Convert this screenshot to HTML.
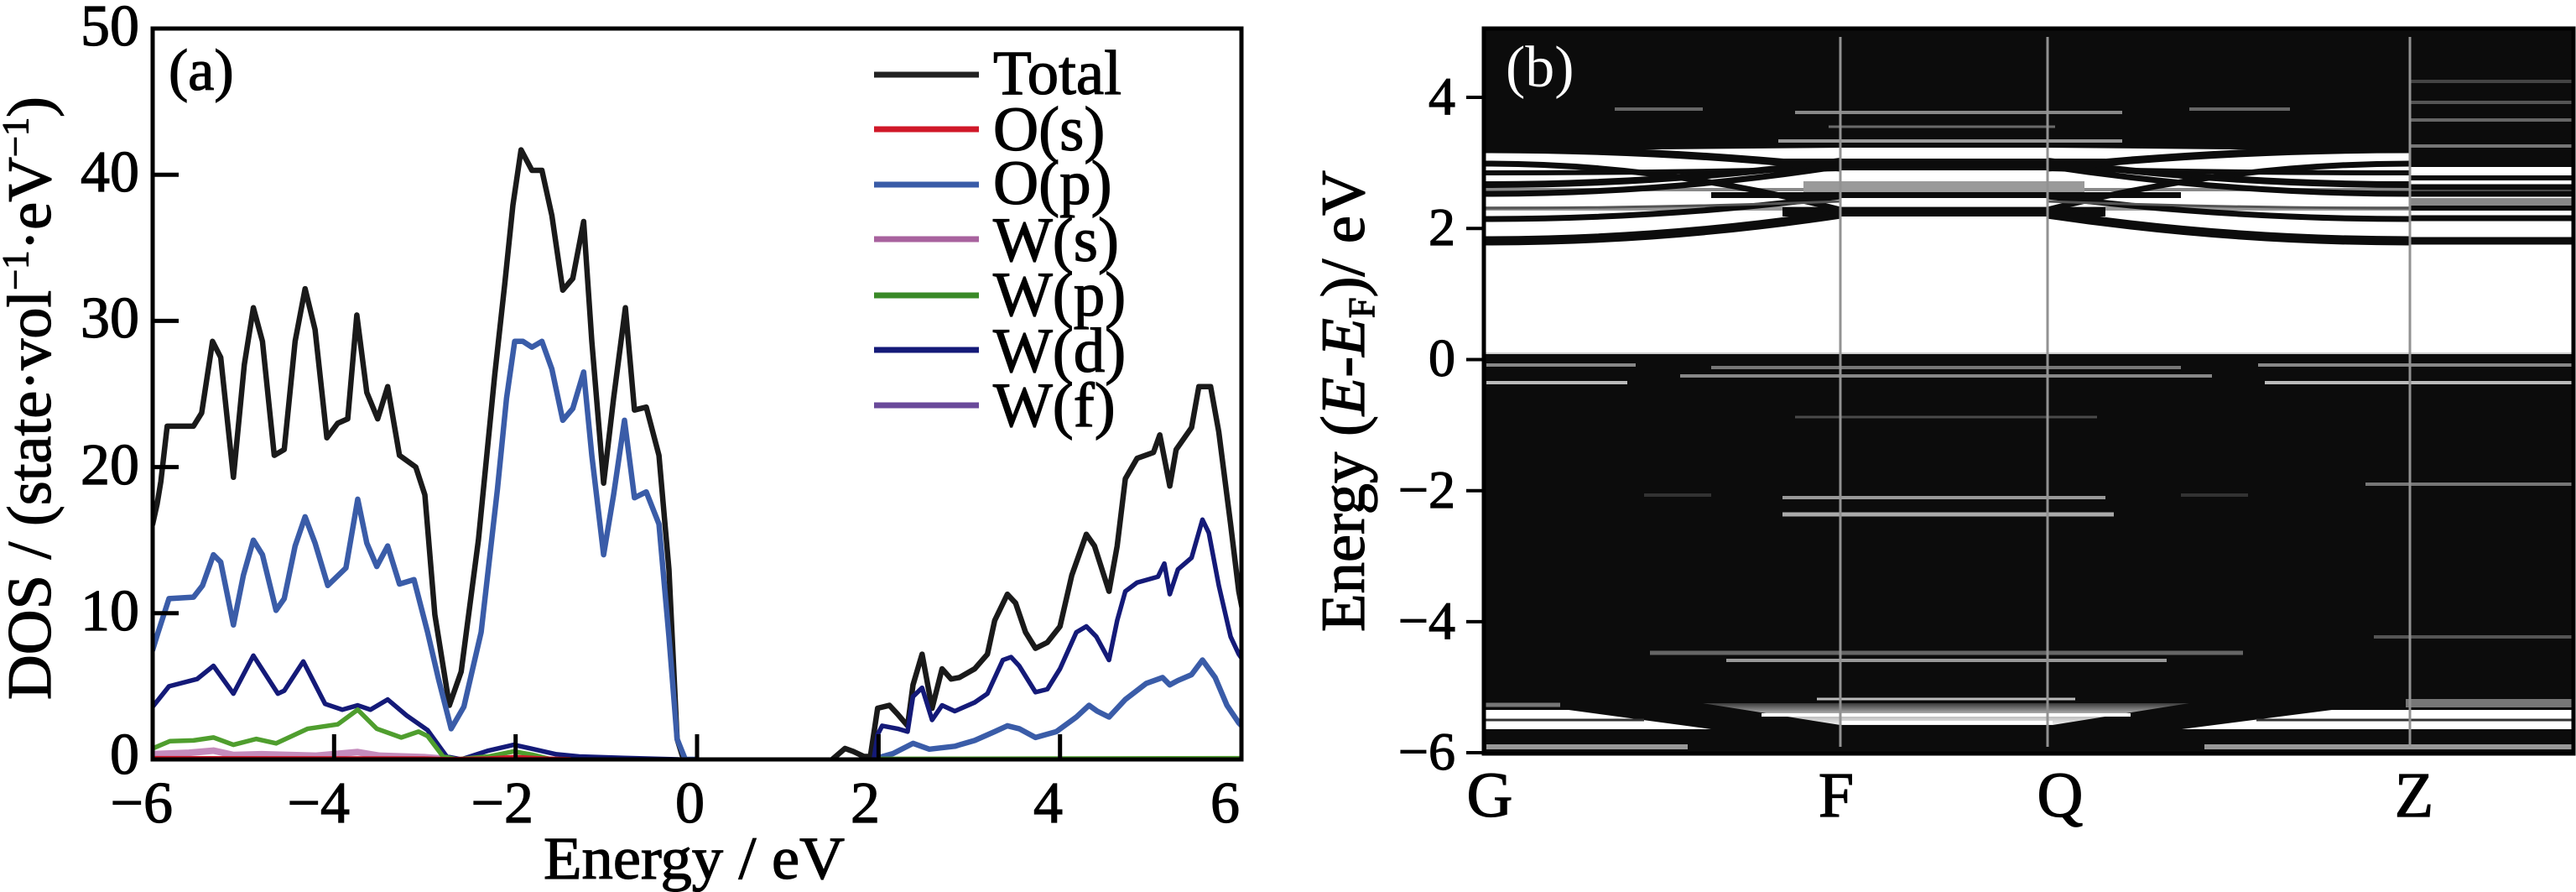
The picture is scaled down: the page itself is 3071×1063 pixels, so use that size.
<!DOCTYPE html>
<html><head><meta charset="utf-8"><style>
html,body{margin:0;padding:0;background:#fff;}
svg{display:block;font-family:"Liberation Serif","Times New Roman",serif;}
svg text{font-family:"Liberation Serif","Times New Roman",serif;}
</style></head><body>
<svg width="3071" height="1063" viewBox="0 0 3071 1063" xmlns="http://www.w3.org/2000/svg" font-family="'Liberation Serif', 'Times New Roman', serif" style="font-family:'Liberation Serif','Times New Roman',serif">
<defs>
<clipPath id="ca"><rect x="182" y="34" width="1298" height="871"/></clipPath>
<clipPath id="cb"><rect x="1769" y="34" width="1299" height="864"/></clipPath>
<linearGradient id="gq" x1="0" y1="0" x2="0" y2="1">
<stop offset="0" stop-color="#3a3a3a"/><stop offset="0.45" stop-color="#a8a8a8"/><stop offset="1" stop-color="#f0f0f0"/>
</linearGradient>
</defs>

<!-- ================= PANEL (a) ================= -->
<g clip-path="url(#ca)">
<g transform="matrix(108.17,0,0,-17.42,831.02,905)" fill="none" stroke-linejoin="round" stroke-linecap="round">
<polyline vector-effect="non-scaling-stroke" stroke="#1a1a1a" stroke-width="6.5" points="-6.05,15.5 -6,16.1 -5.95,17.5 -5.91,19 -5.84,22.8 -5.55,22.8 -5.46,23.7 -5.34,28.6 -5.25,27.5 -5.11,19.3 -4.99,27 -4.89,30.9 -4.79,28.6 -4.66,20.8 -4.55,21.2 -4.43,28.6 -4.32,32.2 -4.21,29.4 -4.08,22 -3.96,23 -3.85,23.3 -3.75,30.4 -3.64,25.1 -3.52,23.3 -3.41,25.5 -3.28,20.8 -3.1,20 -3,18.1 -2.89,9.9 -2.73,3.7 -2.6,6 -2.41,15 -2.23,26.3 -2.12,32.5 -2.03,37.9 -1.94,41.7 -1.82,40.3 -1.71,40.3 -1.6,37.2 -1.48,32.1 -1.37,32.9 -1.25,36.8 -1.16,28.6 -1.03,18.9 -0.92,24.7 -0.79,30.9 -0.69,23.9 -0.56,24.1 -0.42,20.8 -0.31,13 -0.22,1.4 -0.15,0"/>
<polyline vector-effect="non-scaling-stroke" stroke="#1a1a1a" stroke-width="6.5" points="1.49,0 1.63,0.75 1.72,0.55 1.84,0.2 1.91,0.2 1.99,3.5 2.12,3.7 2.21,3.1 2.32,2.3 2.38,5.1 2.48,7.2 2.59,3.5 2.7,6.2 2.8,5.5 2.89,5.6 3.06,6.2 3.2,7.2 3.28,9.5 3.42,11.3 3.51,10.7 3.62,8.7 3.73,7.6 3.86,8 4,9.1 4.13,12.6 4.29,15.4 4.38,14.6 4.54,11.5 4.63,14.6 4.72,19.2 4.85,20.6 5.03,21 5.1,22.2 5.21,18.7 5.28,21.2 5.45,22.7 5.53,25.5 5.66,25.5 5.75,22.4 5.88,16.1 5.97,11.5 6.05,9"/>
<polyline vector-effect="non-scaling-stroke" stroke="#3a5ca8" stroke-width="6.5" points="-6.05,7 -6,7.5 -5.95,8.5 -5.82,11 -5.55,11.1 -5.45,11.9 -5.33,14 -5.25,13.5 -5.11,9.2 -5,12.6 -4.89,15 -4.79,14 -4.64,10.2 -4.55,11 -4.43,14.6 -4.32,16.6 -4.21,14.8 -4.07,11.9 -3.87,13.1 -3.74,17.8 -3.64,14.8 -3.53,13.2 -3.41,14.6 -3.28,12 -3.12,12.3 -2.97,8.7 -2.85,5.5 -2.71,2.1 -2.57,3.6 -2.38,8.7 -2.2,18.5 -2.1,24.7 -2.01,28.6 -1.92,28.6 -1.82,28.2 -1.71,28.6 -1.6,26.7 -1.48,23.2 -1.37,24 -1.25,26.5 -1.16,20.8 -1.03,14 -0.92,18.1 -0.8,23.2 -0.69,17.9 -0.56,18.3 -0.42,16.1 -0.31,8.4 -0.22,1.4 -0.13,0 0,0"/>
<polyline vector-effect="non-scaling-stroke" stroke="#3a5ca8" stroke-width="6.5" points="1.99,0.1 2.16,0.4 2.38,1.1 2.56,0.7 2.84,0.9 3.06,1.3 3.28,1.9 3.42,2.3 3.55,2.1 3.73,1.5 3.96,1.9 4.18,2.9 4.32,3.7 4.41,3.3 4.54,2.9 4.72,4.1 4.95,5.2 5.13,5.6 5.21,5.1 5.3,5.4 5.45,5.8 5.57,6.8 5.71,5.6 5.84,3.7 5.97,2.5 6.05,2"/>
<polyline vector-effect="non-scaling-stroke" stroke="#141a78" stroke-width="5.5" points="-6.05,3.4 -6,3.6 -5.82,5 -5.51,5.5 -5.33,6.4 -5.11,4.5 -4.89,7.1 -4.62,4.5 -4.55,4.7 -4.34,6.7 -4.1,3.8 -3.91,3.4 -3.74,3.7 -3.6,3.4 -3.41,4.1 -3.2,3 -2.97,2 -2.76,0.2 -2.6,0 -2.3,0.6 -2.02,1.0 -1.8,0.7 -1.55,0.35 -1.3,0.2 -0.8,0.1 -0.2,0"/>
<polyline vector-effect="non-scaling-stroke" stroke="#141a78" stroke-width="5.5" points="1.95,0.1 1.99,1.7 2.04,2.3 2.21,2.1 2.32,1.9 2.38,4.3 2.48,4.9 2.59,2.7 2.7,3.7 2.84,3.3 3.06,3.9 3.2,4.5 3.37,6.8 3.46,7 3.55,6.4 3.73,4.6 3.86,4.8 4,6.2 4.18,8.7 4.29,9.1 4.4,8.4 4.54,6.8 4.63,9.5 4.72,11.5 4.85,12.1 5.08,12.5 5.15,13.4 5.21,11.3 5.3,13 5.45,13.8 5.57,16.4 5.64,15.5 5.75,11.9 5.88,8.4 5.97,7.2 6.05,6.5"/>
<polyline vector-effect="non-scaling-stroke" stroke="#c58cbd" stroke-width="8" points="-6.05,0.35 -5.6,0.45 -5.33,0.6 -5.11,0.3 -4.8,0.35 -4.5,0.3 -4.2,0.25 -3.74,0.5 -3.5,0.25 -3.0,0.15 -2.8,0.05"/>
<polyline vector-effect="non-scaling-stroke" stroke="#4f9e2e" stroke-width="5.5" points="-6.05,0.7 -6,0.75 -5.81,1.25 -5.55,1.3 -5.33,1.5 -5.11,1.0 -4.86,1.4 -4.64,1.1 -4.29,2.1 -3.96,2.4 -3.74,3.4 -3.53,2.1 -3.26,1.5 -3.07,1.9 -2.97,1.6 -2.8,0.2 -2.65,0 -2.3,0.2 -2.02,0.55 -1.8,0.3 -1.6,0"/>
<polyline vector-effect="non-scaling-stroke" stroke="#4f9e2e" stroke-width="4" points="2,0.08 6.05,0.12"/>
<polyline vector-effect="non-scaling-stroke" stroke="#d01828" stroke-width="4" points="-6.05,0.12 -3,0.1 -2.75,0.05 -2.3,0.1 -2,0.2 -1.7,0.1 -1.4,0.05"/>
</g>
</g>
<rect x="182" y="34" width="1298" height="871" fill="none" stroke="#000" stroke-width="5"/>
<g stroke="#000" stroke-width="5">
<line x1="182" y1="730.8" x2="213" y2="730.8"/>
<line x1="182" y1="556.6" x2="213" y2="556.6"/>
<line x1="182" y1="382.4" x2="213" y2="382.4"/>
<line x1="182" y1="208.2" x2="213" y2="208.2"/>
<line x1="398.3" y1="905" x2="398.3" y2="875"/>
<line x1="614.7" y1="905" x2="614.7" y2="875"/>
<line x1="831" y1="905" x2="831" y2="875"/>
<line x1="1047.4" y1="905" x2="1047.4" y2="875"/>
<line x1="1263.7" y1="905" x2="1263.7" y2="875"/>
</g>
<g font-size="70" text-anchor="end" font-family="'Liberation Serif', serif" fill="#000" stroke="#000" stroke-width="1.2">
<text x="166" y="54">50</text>
<text x="166" y="228">40</text>
<text x="166" y="402">30</text>
<text x="166" y="577">20</text>
<text x="166" y="751">10</text>
<text x="166" y="922">0</text>
</g>
<g font-size="70" text-anchor="end" font-family="'Liberation Serif', serif" fill="#000" stroke="#000" stroke-width="1.2">
<text x="206" y="980">−6</text>
<text x="417" y="980">−4</text>
<text x="636" y="980">−2</text>
<text x="840" y="980">0</text>
<text x="1049" y="980">2</text>
<text x="1267" y="980">4</text>
<text x="1478" y="980">6</text>
</g>
<g font-family="'Liberation Serif', serif" fill="#000" stroke="#000" stroke-width="1.2">
<text x="648" y="1047" font-size="72" textLength="359" lengthAdjust="spacingAndGlyphs">Energy / eV</text>
<text transform="translate(60,834) rotate(-90)" font-size="74" textLength="719" lengthAdjust="spacingAndGlyphs">DOS / (state·vol<tspan dy="-27" font-size="44">−1</tspan><tspan dy="27">·eV</tspan><tspan dy="-27" font-size="44">−1</tspan><tspan dy="27">)</tspan></text>
<text x="201" y="107" font-size="70">(a)</text>
</g>
<g stroke-width="7" stroke-linecap="butt">
<line x1="1042" y1="89" x2="1167" y2="89" stroke="#222"/>
<line x1="1042" y1="154" x2="1167" y2="154" stroke="#d01828"/>
<line x1="1042" y1="220" x2="1167" y2="220" stroke="#3a5ca8"/>
<line x1="1042" y1="285" x2="1167" y2="285" stroke="#a8629e"/>
<line x1="1042" y1="352" x2="1167" y2="352" stroke="#3a8a28"/>
<line x1="1042" y1="417" x2="1167" y2="417" stroke="#141a78"/>
<line x1="1042" y1="483" x2="1167" y2="483" stroke="#6a4a9a"/>
</g>
<g font-size="75" font-family="'Liberation Serif', serif" fill="#000" stroke="#000" stroke-width="1.2">
<text x="1184" y="112">Total</text>
<text x="1184" y="179">O(s)</text>
<text x="1184" y="243">O(p)</text>
<text x="1184" y="311">W(s)</text>
<text x="1184" y="376">W(p)</text>
<text x="1184" y="443">W(d)</text>
<text x="1184" y="508">W(f)</text>
</g>

<!-- ================= PANEL (b) ================= -->
<g clip-path="url(#cb)">
<rect x="1769" y="34" width="1299" height="864" fill="#0c0c0c"/>
<path d="M1770,180 L2194,176 L2441,176 L2873,180 L2873,193 L3068,193 L3068,421 L1770,421 Z" fill="#fff"/>
<!-- gray fills in conduction band region -->
<rect x="1770" y="224" width="1298" height="4" fill="#888"/>
<rect x="1770" y="246" width="1298" height="5" fill="#999"/>
<!-- flat bands F-Q extending into neighbours -->
<rect x="2125" y="189" width="385" height="14" fill="#0c0c0c"/>
<rect x="2150" y="216" width="335" height="13" fill="#9a9a9a"/>
<rect x="2040" y="229" width="560" height="7" fill="#0c0c0c"/>
<rect x="2125" y="247" width="385" height="11" fill="#0c0c0c"/>
<!-- Z-right stripes -->
<g stroke="#0c0c0c">
<line x1="2873" y1="185" x2="3068" y2="185" stroke-width="14"/>
<line x1="2873" y1="196" x2="3068" y2="196" stroke-width="6"/>
<line x1="2873" y1="212" x2="3068" y2="212" stroke-width="6"/>
<line x1="2873" y1="223" x2="3068" y2="223" stroke-width="7"/>
<line x1="2873" y1="231" x2="3068" y2="231" stroke-width="7"/>
<line x1="2873" y1="248" x2="3068" y2="248" stroke-width="6"/>
<line x1="2873" y1="260" x2="3068" y2="260" stroke-width="7"/>
<line x1="2873" y1="287" x2="3068" y2="287" stroke-width="9"/>
</g>
<rect x="2873" y="236" width="195" height="9" fill="#888"/>
<rect x="2873" y="172" width="195" height="4" fill="#777"/>
<g fill="none" stroke="#0c0c0c">
<path d="M1770,287 Q1982,287 2194,255 M2873,287 Q2657,287 2441,255" stroke-width="11"/>
<path d="M1770,261 Q1982,261 2194,234 M2873,261 Q2657,261 2441,234" stroke-width="7"/>
<path d="M1770,231 Q1982,231 2194,198 M2873,231 Q2657,231 2441,198" stroke-width="7"/>
<path d="M1770,220 Q1982,220 2194,192 M2873,220 Q2657,220 2441,192" stroke-width="8"/>
<path d="M1770,206 Q1982,206 2194,201 M2873,206 Q2657,206 2441,201" stroke-width="6"/>
<path d="M1770,195 Q1982,195 2194,250 M2873,195 Q2657,195 2441,250" stroke-width="7"/>
<path d="M1770,178 Q1982,178 2194,200 M2873,178 Q2657,178 2441,200" stroke-width="9"/>
<path d="M1770,248 Q1982,248 2194,240 M2873,248 Q2657,248 2441,240" stroke-width="3" stroke="#555"/>
</g>
<g stroke-width="4">
<line x1="2140" y1="134" x2="2530" y2="134" stroke="#888"/>
<line x1="2180" y1="151" x2="2450" y2="151" stroke="#6a6a6a" stroke-width="3"/>
<line x1="2120" y1="168" x2="2530" y2="168" stroke="#999"/>
<line x1="1925" y1="130" x2="2030" y2="130" stroke="#666"/>
<line x1="2610" y1="130" x2="2730" y2="130" stroke="#666"/>
<line x1="2873" y1="97" x2="3068" y2="97" stroke="#444"/>
<line x1="2873" y1="122" x2="3068" y2="122" stroke="#555"/>
<line x1="2873" y1="143" x2="3068" y2="143" stroke="#666"/>
</g>
<line x1="1769" y1="421" x2="3068" y2="421" stroke="#cfcfcf" stroke-width="2"/>
<g stroke-width="4">
<line x1="1772" y1="435" x2="1950" y2="435" stroke="#888"/>
<line x1="2692" y1="435" x2="3068" y2="435" stroke="#888"/>
<line x1="2040" y1="438" x2="2600" y2="438" stroke="#777"/>
<line x1="2003" y1="448" x2="2637" y2="448" stroke="#888"/>
<line x1="1772" y1="456" x2="1940" y2="456" stroke="#bbb"/>
<line x1="2700" y1="456" x2="3068" y2="456" stroke="#bbb"/>
<line x1="2140" y1="497" x2="2500" y2="497" stroke="#4a4a4a" stroke-width="3"/>
<line x1="2820" y1="577" x2="3068" y2="577" stroke="#777"/>
<line x1="2125" y1="593" x2="2510" y2="593" stroke="#999"/>
<line x1="2125" y1="613" x2="2520" y2="613" stroke="#aaa" stroke-width="5"/>
<line x1="1960" y1="590" x2="2040" y2="590" stroke="#333"/>
<line x1="2600" y1="590" x2="2680" y2="590" stroke="#333"/>
<line x1="2830" y1="759" x2="3068" y2="759" stroke="#555"/>
<line x1="1967" y1="778" x2="2674" y2="778" stroke="#666" stroke-width="5"/>
<line x1="2058" y1="787" x2="2583" y2="787" stroke="#999"/>
</g>
<polygon points="1769,846 1870,846 2040,869 1769,869" fill="#fff"/>
<line x1="1769" y1="858" x2="1960" y2="858" stroke="#333" stroke-width="3"/>
<line x1="1769" y1="840" x2="1860" y2="840" stroke="#777" stroke-width="5"/>
<line x1="1772" y1="890" x2="2012" y2="890" stroke="#999" stroke-width="6"/>
<polygon points="2030,838 2610,838 2447,864 2194,864" fill="url(#gq)"/>
<line x1="2100" y1="852" x2="2540" y2="852" stroke="#fff" stroke-width="4"/>
<line x1="2194" y1="861" x2="2447" y2="861" stroke="#fff" stroke-width="4"/>
<line x1="2166" y1="833" x2="2474" y2="833" stroke="#bbb" stroke-width="3"/>
<polygon points="2601,869 2780,846 3068,846 3068,869" fill="#fff"/>
<line x1="2690" y1="858" x2="3068" y2="858" stroke="#333" stroke-width="3"/>
<rect x="2868" y="833" width="200" height="10" fill="#777"/>
<line x1="2628" y1="890" x2="3068" y2="890" stroke="#999" stroke-width="6"/>
<g stroke="#929292" stroke-width="3">
<line x1="2194" y1="44" x2="2194" y2="890"/>
<line x1="2441" y1="44" x2="2441" y2="890"/>
<line x1="2873" y1="44" x2="2873" y2="890"/>
</g>
</g>
<rect x="1769" y="34" width="1299" height="864" fill="none" stroke="#000" stroke-width="5"/>
<g stroke="#000" stroke-width="4">
<line x1="1748" y1="116" x2="1769" y2="116"/>
<line x1="1748" y1="272.3" x2="1769" y2="272.3"/>
<line x1="1748" y1="428.5" x2="1769" y2="428.5"/>
<line x1="1748" y1="584.7" x2="1769" y2="584.7"/>
<line x1="1748" y1="740.9" x2="1769" y2="740.9"/>
<line x1="1748" y1="897" x2="1769" y2="897"/>
</g>
<g font-size="64" text-anchor="end" font-family="'Liberation Serif', serif" fill="#000" stroke="#000" stroke-width="1.2">
<text x="1735" y="136">4</text>
<text x="1735" y="292">2</text>
<text x="1735" y="448">0</text>
<text x="1735" y="605">−2</text>
<text x="1735" y="761">−4</text>
<text x="1735" y="917">−6</text>
</g>
<g font-size="76" text-anchor="middle" font-family="'Liberation Serif', serif" fill="#000" stroke="#000" stroke-width="1.2">
<text x="1776" y="973">G</text>
<text x="2189" y="973">F</text>
<text x="2456" y="973">Q</text>
<text x="2878" y="973">Z</text>
</g>
<text x="1795" y="103" font-size="70" font-family="'Liberation Serif', serif" fill="#fff" style="fill:#fff">(b)</text>
<text transform="translate(1626,753) rotate(-90)" font-size="74" font-family="'Liberation Serif', serif" fill="#000" stroke="#000" stroke-width="1.2" textLength="550" lengthAdjust="spacingAndGlyphs">Energy (<tspan font-style="italic">E</tspan>-<tspan font-style="italic">E</tspan><tspan dy="12" font-size="44">F</tspan><tspan dy="-12">)/ eV</tspan></text>
</svg>
</body></html>
